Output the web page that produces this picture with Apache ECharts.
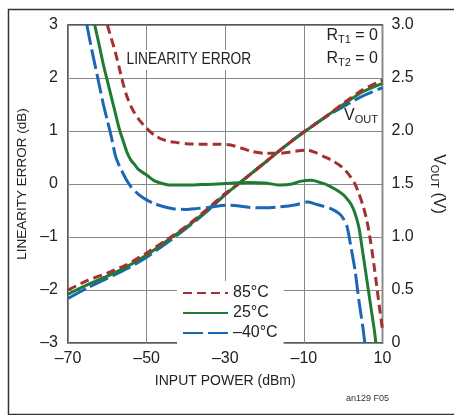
<!DOCTYPE html>
<html>
<head>
<meta charset="utf-8">
<script src="https://cdn.jsdelivr.net/npm/echarts@6/dist/echarts.min.js"></script>
<style>
  html, body { margin: 0; padding: 0; background: #fff; }
  #chart { width: 454px; height: 415px; }
</style>
</head>
<body>
<div id="chart"></div>
<script>
// x axis ticks (dBm)
var xTicks = [-70, -50, -30, -10, 10];

// linearity error (dB) vs input power (dBm)
var err85 = [[-60, 3.0], [-59, 2.75], [-58, 2.5], [-57, 2.2], [-56, 1.9], [-55, 1.65], [-54, 1.47], [-53, 1.33],
  [-52, 1.22], [-50, 1.05], [-48, 0.92], [-46, 0.84], [-44, 0.8], [-42, 0.78], [-40, 0.76], [-36, 0.75],
  [-32, 0.75], [-29, 0.74], [-26, 0.68], [-23, 0.61], [-20, 0.58], [-16, 0.58], [-12, 0.62], [-9, 0.64],
  [-7, 0.59], [-5, 0.52], [-3, 0.45], [-1, 0.36], [0, 0.3], [1, 0.22], [2, 0.12], [3, 0.0], [4, -0.18],
  [5, -0.4], [6, -0.68], [7, -1.1], [8, -1.62], [9, -2.2], [10, -2.75]];
var err25 = [[-63.2, 3.0], [-62, 2.6], [-61, 2.25], [-60, 1.95], [-59, 1.65], [-58, 1.35], [-57, 1.05], [-56, 0.82],
  [-55, 0.6], [-54, 0.45], [-53, 0.36], [-52, 0.27], [-50, 0.17], [-48, 0.06], [-46, 0.01], [-44, -0.02],
  [-40, -0.02], [-36, -0.01], [-32, 0.0], [-28, 0.02], [-24, 0.03], [-20, 0.02], [-16, -0.02], [-13, 0.0],
  [-11, 0.05], [-8, 0.07], [-6, 0.03], [-4, -0.02], [-2, -0.1], [0, -0.2], [1, -0.28], [2, -0.38], [3, -0.55],
  [4, -0.82], [5, -1.3], [6, -1.8], [7, -2.3], [8, -2.8], [8.3, -3.0]];
var errM40 = [[-65.2, 3.0], [-64, 2.55], [-63, 2.2], [-62, 1.85], [-61, 1.5], [-60, 1.2], [-59, 0.9], [-58, 0.55],
  [-57, 0.35], [-56, 0.2], [-55, 0.06], [-54, -0.05], [-52, -0.2], [-50, -0.3], [-48, -0.37], [-46, -0.42],
  [-43, -0.47], [-40, -0.48], [-37, -0.46], [-34, -0.44], [-30, -0.4], [-27, -0.41], [-24, -0.44], [-20, -0.45],
  [-16, -0.43], [-12, -0.39], [-9, -0.34], [-7, -0.38], [-5, -0.42], [-3, -0.47], [-1, -0.56], [0, -0.65],
  [1, -0.81], [2, -1.2], [3, -1.62], [4, -2.2], [5, -2.7], [5.5, -3.0]];

// VOUT (V) vs input power (dBm)
var vout85 = [[-70, 0.5], [-65, 0.59], [-60, 0.66], [-55, 0.74], [-50, 0.85], [-45, 0.97], [-40, 1.1], [-35, 1.25],
  [-30, 1.41], [-25, 1.55], [-20, 1.7], [-15, 1.85], [-10, 1.99], [-5, 2.12], [0, 2.26], [5, 2.39], [10, 2.48]];
var vout25 = [[-70, 0.46], [-65, 0.55], [-60, 0.63], [-55, 0.72], [-50, 0.83], [-45, 0.96], [-40, 1.09], [-35, 1.24],
  [-30, 1.4], [-25, 1.55], [-20, 1.7], [-15, 1.85], [-10, 1.99], [-5, 2.12], [0, 2.25], [5, 2.37], [10, 2.45]];
var voutM40 = [[-70, 0.42], [-65, 0.52], [-60, 0.61], [-55, 0.7], [-50, 0.81], [-45, 0.94], [-40, 1.08], [-35, 1.23],
  [-30, 1.4], [-25, 1.55], [-20, 1.7], [-15, 1.85], [-10, 1.99], [-5, 2.12], [0, 2.23], [5, 2.33], [10, 2.41]];

var fontFam = '"Liberation Sans", Arial, sans-serif';
var red = '#a2312f', green = '#1f7a32', blue = '#1c66b6';

function dash(v) { return String(v).replace('-', '\u2013'); }

var chart = echarts.init(document.getElementById('chart'));

function line(name, data, color, type, axis) {
  return {
    name: name, type: 'line', data: data, yAxisIndex: axis, symbol: 'none', showSymbol: false, smooth: 0.25,
    lineStyle: { color: color, width: 3, type: type }, itemStyle: { color: color },
    animation: false, silent: true
  };
}

var option = {
  backgroundColor: '#fff',
  textStyle: { fontFamily: fontFam },
  grid: { left: 68, right: 68, top: 25, bottom: 72, show: true, borderColor: '#222', borderWidth: 1.5 },
  legend: {
    data: ['85°C', '25°C', '\u201340°C'],
    orient: 'vertical', left: 177, top: 281, itemWidth: 45, itemHeight: 10, itemGap: 2,
    itemStyle: { opacity: 0 },
    backgroundColor: '#fff', padding: [3, 6, 3, 5],
    textStyle: { fontSize: 16, color: '#222', fontFamily: fontFam, lineHeight: 18 }
  },
  xAxis: {
    type: 'value', min: xTicks[0], max: xTicks[xTicks.length - 1], interval: 20,
    name: 'INPUT POWER (dBm)', nameLocation: 'middle', nameGap: 31,
    nameTextStyle: { fontSize: 14, color: '#222', fontFamily: fontFam },
    axisLine: { show: false }, axisTick: { show: false },
    axisLabel: { fontSize: 16, color: '#222', margin: 8, formatter: dash },
    splitLine: { show: true, lineStyle: { color: '#888', width: 1 } }
  },
  yAxis: [{
    type: 'value', min: -3, max: 3, interval: 1,
    name: 'LINEARITY ERROR (dB)', nameLocation: 'middle', nameGap: 38,
    nameTextStyle: { fontSize: 13.5, color: '#222', fontFamily: fontFam },
    axisLine: { show: false }, axisTick: { show: false },
    axisLabel: { fontSize: 16, color: '#222', margin: 10, formatter: dash },
    splitLine: { show: true, lineStyle: { color: '#888', width: 1 } }
  }, {
    type: 'value', min: 0, max: 3, interval: 0.5, position: 'right',
    name: '{a|V}{s|OUT}{a| (V)}', nameLocation: 'middle', nameGap: 46, nameRotate: -90,
    nameTextStyle: {
      color: '#222', fontFamily: fontFam,
      rich: { a: { fontSize: 16, color: '#222', fontFamily: fontFam },
              s: { fontSize: 11, color: '#222', fontFamily: fontFam, padding: [8, 0, 0, 0] } }
    },
    axisLine: { show: false }, axisTick: { show: false },
    axisLabel: { fontSize: 16, color: '#222', margin: 9,
      formatter: function (v) { return v === 0 ? '0' : v.toFixed(1); } },
    splitLine: { show: false }
  }],
  graphic: [
    { type: 'rect', left: 6, top: 7, silent: true, z: 100,
      shape: { width: 460, height: 405 }, style: { fill: 'none', stroke: '#333', lineWidth: 1.5 } },
    { type: 'text', x: 124, y: 50, scaleX: 0.86, z: 100,
      style: { text: 'LINEARITY ERROR', fontSize: 16, fill: '#222', fontFamily: fontFam,
               backgroundColor: '#fff', padding: [2, 3, 2, 3] } },
    { type: 'text', right: 76, top: 28, z: 100,
      style: { text: '{a|R}{s|T1}{a| = 0}\n{a|R}{s|T2}{a| = 0}', fontFamily: fontFam, fill: '#222', align: 'right',
               rich: { a: { fontSize: 16, fontFamily: fontFam, lineHeight: 23 },
                       s: { fontSize: 11, fontFamily: fontFam, padding: [8, 0, 0, 0] } } } },
    { type: 'text', right: 76, top: 108, z: 100,
      style: { text: '{a|V}{s|OUT}', fontFamily: fontFam, fill: '#222',
               rich: { a: { fontSize: 16, fontFamily: fontFam },
                       s: { fontSize: 11, fontFamily: fontFam, padding: [8, 0, 0, 0] } } } },
    { type: 'text', left: 346, top: 394, z: 100,
      style: { text: 'an129 F05', fontSize: 9, fill: '#333', fontFamily: fontFam } }
  ],
  series: [
    line('VOUT \u201340°C', voutM40, blue, [20, 5], 1),
    line('VOUT 25°C', vout25, green, 'solid', 1),
    line('VOUT 85°C', vout85, red, [9, 5], 1),
    line('\u201340°C', errM40, blue, [20, 5], 0),
    line('25°C', err25, green, 'solid', 0),
    line('85°C', err85, red, [9, 5], 0)
  ]
};

chart.setOption(option);
</script>
</body>
</html>
